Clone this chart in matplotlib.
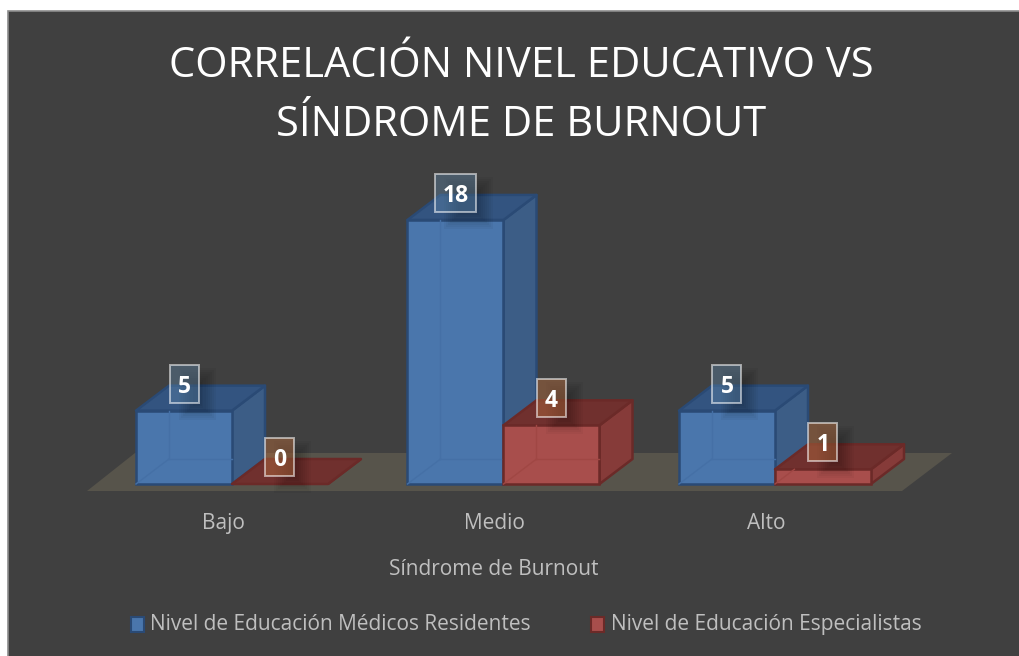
import matplotlib
matplotlib.use('Agg')
import matplotlib.pyplot as plt
from matplotlib.patches import Polygon, Rectangle

# Datos
categorias = ['Bajo', 'Medio', 'Alto']
residentes = [5, 18, 5]
especialistas = [0, 4, 1]
nombres = ['Nivel de Educación Médicos Residentes', 'Nivel de Educación Especialistas']
titulo = ['CORRELACIÓN NIVEL EDUCATIVO VS', 'SÍNDROME DE BURNOUT']
eje_x = 'Síndrome de Burnout'

plt.rcParams['font.family'] = ['Open Sans', 'DejaVu Sans']

W, H = 1020, 656
PX = 271.5   # pixeles por categoria
PY = 14.67   # pixeles por unidad
X0, Y0 = 232, 484  # pixel de categoria 0, valor 0

fig = plt.figure(figsize=(W / 100, H / 100), dpi=100, facecolor='white')
ax = fig.add_axes([0, 0, 1, 1])
ax.set_xlim(-X0 / PX, (W - X0) / PX)
ax.set_ylim((Y0 - H) / PY, Y0 / PY)
ax.axis('off')

ANCHO = 96 / PX
DX = 33 / PX
DY = 25 / PY
fondo = '#404040'
gris = '#bfbfbf'


def px(x, y):
    # pasa de pixeles de la imagen a datos, solo para decoracion
    return (x - X0) / PX, (Y0 - y) / PY


# Fondo y suelo
x, y = px(7.5, 660)
x2, y2 = px(1030, 11.5)
ax.add_patch(Rectangle((x, y), x2 - x, y2 - y, facecolor=fondo, edgecolor='#8c8c8c', lw=1.2, zorder=0))
suelo = [px(87, 491), px(902, 491), px(952, 453), px(135, 453)]
ax.add_patch(Polygon(suelo, closed=True, facecolor='#57544b', edgecolor='none', zorder=1))


def barra(x, v, colores, z):
    frente, lado, tope, borde, interior = colores
    xd, yd = x + DX, v + DY
    ax.add_patch(Polygon([(x + ANCHO, 0), (x + ANCHO + DX, DY), (x + ANCHO + DX, yd), (x + ANCHO, v)],
                         facecolor=lado, edgecolor=borde, lw=1.8, joinstyle='round', zorder=z))
    ax.add_patch(Polygon([(x, v), (x + ANCHO, v), (x + ANCHO + DX, yd), (x + DX, yd)],
                         facecolor=tope, edgecolor=borde, lw=1.8, joinstyle='round', zorder=z + 0.1))
    if v > 0:
        ax.add_patch(Rectangle((x, 0), ANCHO, v, facecolor=frente, edgecolor=borde, lw=1.8, zorder=z + 0.2))
        # aristas traseras vistas a traves de la cara frontal
        if v > DY:
            ax.plot([x + DX, x + DX], [DY, v], color=interior, lw=1, zorder=z + 0.3)
            ax.plot([x + DX, x + ANCHO], [DY, DY], color=interior, lw=1, zorder=z + 0.3)
            ax.plot([x, x + DX], [0, DY], color=interior, lw=1, zorder=z + 0.3)
        else:
            ax.plot([x, x + DX * v / DY], [0, v], color=interior, lw=1, zorder=z + 0.3)


def etiqueta(xc, v, texto, relleno, ancho):
    yc = v + 27 / PY
    alto = 38 / PY
    w = ancho / PX
    # sombra difusa
    for k in range(8):
        ax.add_patch(Rectangle((xc - w / 2 + (9 + k * 2) / PX, yc - alto / 2 - (17 - k * 2) / PY),
                               w + (8 - k * 4) / PX, alto + (14 - k * 4) / PY, facecolor='black',
                               edgecolor='none', alpha=0.035, zorder=8))
    ax.add_patch(Rectangle((xc - w / 2, yc - alto / 2), w, alto, facecolor=relleno, edgecolor='none', zorder=9))
    ax.add_patch(Rectangle((xc - w / 2, yc - alto / 2), w, alto, facecolor='none', edgecolor=(1, 1, 1, 0.55),
                           lw=1.4, zorder=9))
    ax.text(xc, yc, texto, color='white', fontsize=16.5, fontweight='bold', ha='center', va='center_baseline',
            zorder=10)


azul = ('#4a76ac', '#3c5d86', '#335480', '#2a4a75', '#4570a6')
rojo = ('#a84e4c', '#863b39', '#70302e', '#6b2a28', '#a04744')

for i, (a, b) in enumerate(zip(residentes, especialistas)):
    barra(i - ANCHO, a, azul, 3)
    barra(i, b, rojo, 5)

for i, (a, b) in enumerate(zip(residentes, especialistas)):
    etiqueta(i - ANCHO / 2, a, str(a), (94 / 255, 134 / 255, 169 / 255, 0.4), 41 if a > 9 else 29)
    etiqueta(i + ANCHO / 2, b, str(b), (170 / 255, 102 / 255, 60 / 255, 0.5), 41 if b > 9 else 29)
    ax.text(i - 9 / PX, px(0, 529)[1], categorias[i], color=gris, fontsize=15, ha='center', va='baseline')

ax.text(*px(494, 575), eje_x, color=gris, fontsize=15, ha='center', va='baseline')
ax.text(*px(521, 77), titulo[0], color='white', fontsize=30, ha='center', va='baseline')
ax.text(*px(521, 136), titulo[1], color='white', fontsize=30, ha='center', va='baseline')

# Leyenda
for (xl, xt, nombre, c) in [(131, 150, nombres[0], azul), (591, 611, nombres[1], rojo)]:
    x, y = px(xl, 632)
    ax.add_patch(Rectangle((x, y), 13 / PX, 15 / PY, facecolor=c[0], edgecolor=c[3], lw=1.5, zorder=3))
    ax.text(*px(xt, 630), nombre, color=gris, fontsize=15, ha='left', va='baseline')

fig.savefig('out.png', dpi=100)
